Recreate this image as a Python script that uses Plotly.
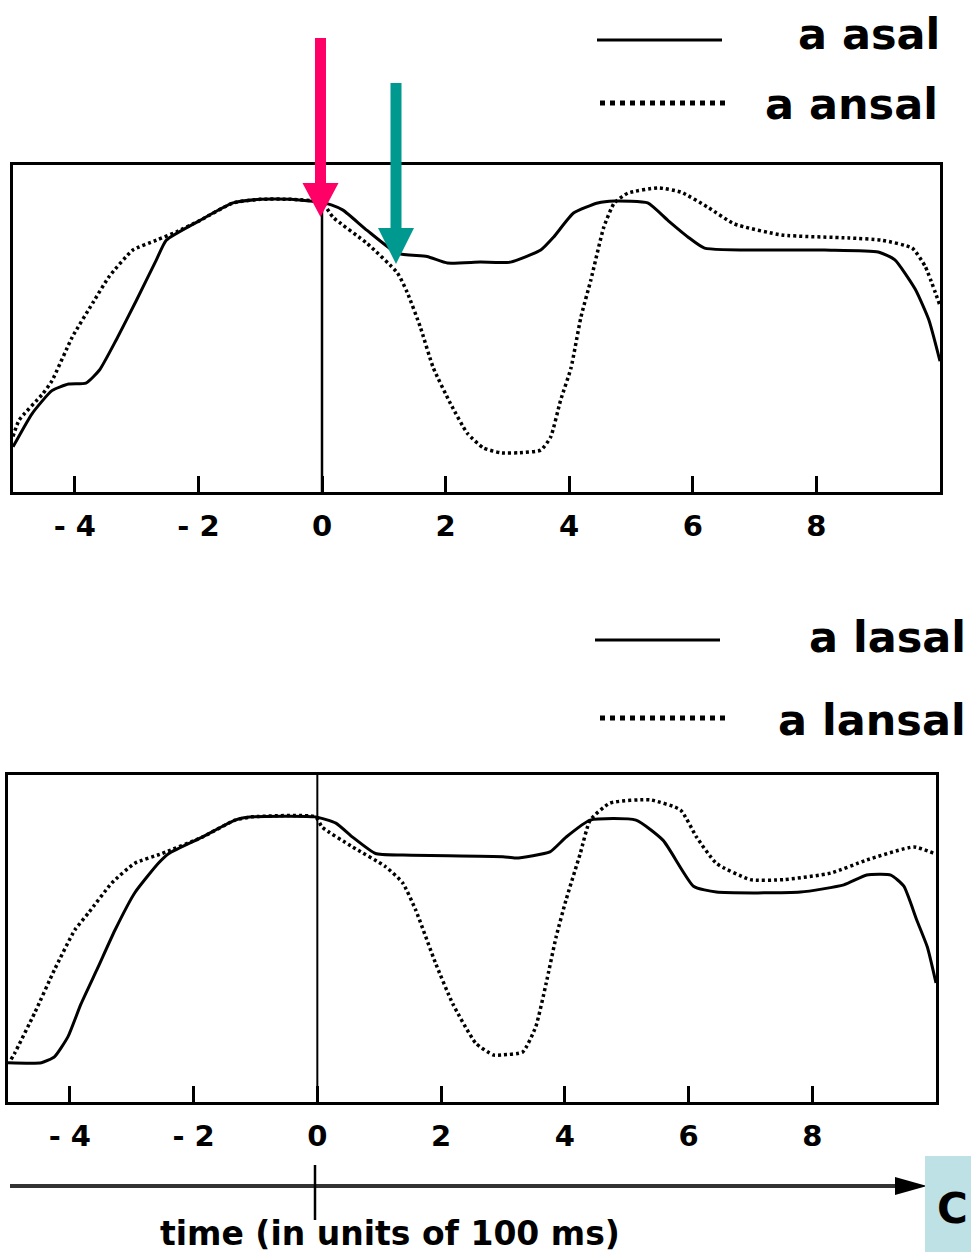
import plotly.graph_objects as go

W, H = 971, 1252

# ---------------- data ----------------
tick_vals = [-4, -2, 0, 2, 4, 6, 8]
tick_text = ["- 4", "- 2", "0", "2", "4", "6", "8"]

asal_x = [-5.0, -4.69, -4.37, -4.1, -3.82, -3.6, -3.33, -3.0, -2.68, -2.52, -1.98, -1.44, -1.0, -0.5, 0.0, 0.15,
          0.34, 0.73, 1.22, 1.7, 2.03, 2.56, 3.05, 3.54, 3.75, 4.07, 4.46, 4.73, 5.27, 5.6, 5.92, 6.19,
          8.13, 9.0, 9.27, 9.6, 9.82, 10.0]
asal_y = [0.138, 0.24, 0.31, 0.33, 0.333, 0.373, 0.465, 0.587, 0.71, 0.77, 0.83, 0.884, 0.895, 0.895, 0.885, 0.878,
          0.862, 0.80, 0.73, 0.72, 0.70, 0.703, 0.703, 0.74, 0.78, 0.853, 0.884, 0.89, 0.884, 0.83, 0.78, 0.746,
          0.74, 0.734, 0.71, 0.62, 0.526, 0.40]

ansal_x = [-5.0, -4.9, -4.52, -4.37, -4.04, -3.71, -3.44, -3.06, -2.68, -2.36, -1.98, -1.44, -1.0, -0.5, 0.0,
           0.18, 0.73, 1.22, 1.38, 1.59, 1.8, 2.08, 2.35, 2.61, 2.89, 3.2, 3.54, 3.7, 3.86, 4.03, 4.19, 4.35,
           4.56, 4.73, 4.95, 5.44, 5.81, 6.25, 6.67, 7.44, 8.52, 9.06, 9.55, 9.76, 10.0]
ansal_y = [0.17, 0.22, 0.30, 0.34, 0.474, 0.578, 0.66, 0.74, 0.77, 0.795, 0.83, 0.884, 0.895, 0.895, 0.885,
           0.84, 0.76, 0.67, 0.61, 0.505, 0.38, 0.27, 0.18, 0.135, 0.12, 0.12, 0.128, 0.168, 0.28, 0.38, 0.535, 0.648,
           0.81, 0.884, 0.914, 0.93, 0.917, 0.87, 0.82, 0.786, 0.777, 0.77, 0.746, 0.69, 0.57]

lasal_x = [-5.0, -4.46, -4.25, -4.03, -3.82, -3.55, -3.27, -2.95, -2.57, -2.4, -1.86, -1.33, -1.05, -0.03, 0.3,
           0.57, 0.94, 1.38, 3.0, 3.21, 3.76, 4.02, 4.41, 5.15, 5.59, 6.08, 6.45, 7.81, 8.51, 8.88, 9.27, 9.48,
           9.69, 9.86, 10.0]
lasal_y = [0.12, 0.12, 0.138, 0.2, 0.30, 0.41, 0.526, 0.64, 0.73, 0.76, 0.81, 0.862, 0.872, 0.872, 0.853,
           0.81, 0.76, 0.755, 0.75, 0.746, 0.765, 0.81, 0.862, 0.862, 0.80, 0.66, 0.642, 0.642, 0.664, 0.694, 0.694, 0.66,
           0.556, 0.474, 0.364]

lansal_x = [-4.95, -4.89, -4.57, -4.25, -3.92, -3.7, -3.32, -2.95, -2.51, -1.86, -1.33, -1.05, -0.03, 0.08, 0.57,
            1.1, 1.38, 1.59, 1.91, 2.19, 2.56, 2.84, 3.0, 3.32, 3.53, 3.7, 3.86, 4.02, 4.25, 4.41, 4.73, 5.38,
            5.87, 6.13, 6.45, 7.0, 7.54, 8.3, 8.88, 9.64, 9.97]
lansal_y = [0.13, 0.15, 0.272, 0.404, 0.526, 0.578, 0.67, 0.73, 0.76, 0.81, 0.862, 0.872, 0.872, 0.84, 0.78,
            0.72, 0.67, 0.587, 0.425, 0.30, 0.18, 0.144, 0.144, 0.153, 0.23, 0.364, 0.505, 0.618, 0.76, 0.862, 0.914, 0.924,
            0.893, 0.81, 0.73, 0.68, 0.68, 0.70, 0.74, 0.78, 0.76]

legend_top = ["a asal", "a ansal"]
legend_bottom = ["a lasal", "a lansal"]
time_label = "time (in units of 100 ms)"
corner_label = "C"

# ---------------- helpers ----------------
FONT = "DejaVu Sans"


def px(x):
    return x / W


def py(y):
    return 1 - y / H


fig = go.Figure()

solid = dict(color="black", width=3)
dotted = dict(color="black", width=3.5, dash="3px,3px")

fig.add_trace(go.Scatter(x=asal_x, y=asal_y, mode="lines", line=dict(**solid, shape="spline", smoothing=0.5),
                         xaxis="x", yaxis="y", showlegend=False))
fig.add_trace(go.Scatter(x=ansal_x, y=ansal_y, mode="lines", line=dict(**dotted, shape="spline", smoothing=0.5),
                         xaxis="x", yaxis="y", showlegend=False))
fig.add_trace(go.Scatter(x=lasal_x, y=lasal_y, mode="lines", line=dict(**solid, shape="spline", smoothing=0.5),
                         xaxis="x2", yaxis="y2", showlegend=False))
fig.add_trace(go.Scatter(x=lansal_x, y=lansal_y, mode="lines", line=dict(**dotted, shape="spline", smoothing=0.5),
                         xaxis="x2", yaxis="y2", showlegend=False))

xax = dict(range=[-5, 10], tickvals=tick_vals, ticktext=tick_text, ticks="inside", ticklen=16, tickwidth=2.5,
           tickcolor="black", showline=True, linecolor="black", linewidth=2.5, mirror=True, showgrid=False,
           zeroline=False, tickfont=dict(family=FONT, size=29, color="black", weight="bold"),
           ticklabelstandoff=6)
yax = dict(range=[0, 1], showticklabels=False, ticks="", showline=True, linecolor="black", linewidth=2.5,
           mirror=True, showgrid=False, zeroline=False)

fig.update_layout(
    width=W, height=H, margin=dict(l=0, r=0, t=0, b=0),
    paper_bgcolor="white", plot_bgcolor="white",
    xaxis=dict(**xax, domain=[px(13), px(940)], anchor="y"),
    yaxis=dict(**yax, domain=[py(492), py(165)], anchor="x"),
    xaxis2=dict(**xax, domain=[px(8), px(936)], anchor="y2"),
    yaxis2=dict(**yax, domain=[py(1102), py(775)], anchor="x2"),
)

shapes = []
# vertical lines at time 0
shapes.append(dict(type="line", xref="x", yref="y", x0=0, x1=0, y0=0, y1=0.88, line=dict(color="black", width=2.5)))
shapes.append(dict(type="line", xref="x2", yref="y2", x0=0, x1=0, y0=0, y1=1, line=dict(color="black", width=2)))

# legend samples
def hline(x0, x1, y, width, dash="solid"):
    return dict(type="line", xref="paper", yref="paper", x0=px(x0), x1=px(x1), y0=py(y), y1=py(y),
                line=dict(color="black", width=width, dash=dash))

shapes.append(hline(597, 722, 40, 3))
shapes.append(hline(600, 727, 103, 5, "dot"))
shapes.append(hline(595, 720, 640, 3))
shapes.append(hline(600, 727, 718, 5, "dot"))

# pointer arrows
def arrow(xc, y_top, y_tip, shaft_w, head_w, head_h, color):
    s = [dict(type="rect", xref="paper", yref="paper", x0=px(xc - shaft_w / 2), x1=px(xc + shaft_w / 2),
              y0=py(y_top), y1=py(y_tip - head_h + 2), fillcolor=color, line=dict(width=0))]
    path = "M {} {} L {} {} L {} {} Z".format(px(xc - head_w / 2), py(y_tip - head_h), px(xc + head_w / 2),
                                               py(y_tip - head_h), px(xc), py(y_tip))
    s.append(dict(type="path", xref="paper", yref="paper", path=path, fillcolor=color, line=dict(width=0)))
    return s

shapes += arrow(320.5, 38, 217, 11, 36, 34, "#FF0066")
shapes += arrow(396, 83, 264, 11, 36, 36, "#00998F")

# time axis arrow
shapes.append(dict(type="line", xref="paper", yref="paper", x0=px(10), x1=px(900), y0=py(1186), y1=py(1186),
                   line=dict(color="#333333", width=4)))
shapes.append(dict(type="path", xref="paper", yref="paper",
                   path="M {} {} L {} {} L {} {} Z".format(px(895), py(1177), px(895), py(1195), px(927), py(1186)),
                   fillcolor="black", line=dict(width=0)))
shapes.append(dict(type="line", xref="paper", yref="paper", x0=px(315), x1=px(315), y0=py(1165), y1=py(1220),
                   line=dict(color="black", width=2.5)))

# corner box
shapes.append(dict(type="rect", xref="paper", yref="paper", x0=px(925), x1=px(975), y0=py(1156), y1=py(1256),
                   fillcolor="#BDE1E5", line=dict(width=0)))

fig.update_layout(shapes=shapes)

ann = []
def text(t, x, y, size, xanchor):
    return dict(text=t, x=px(x), y=py(y), xref="paper", yref="paper", xanchor=xanchor, yanchor="middle",
                showarrow=False, font=dict(family=FONT, size=size, color="black", weight="bold"))

ann.append(text(legend_top[0], 942, 34, 43, "right"))
ann.append(text(legend_top[1], 940, 104, 43, "right"))
ann.append(text(legend_bottom[0], 968, 637, 43, "right"))
ann.append(text(legend_bottom[1], 968, 720, 43, "right"))
ann.append(text(time_label, 390, 1233, 33, "center"))
ann.append(text(corner_label, 970, 1208, 42, "right"))
fig.update_layout(annotations=ann)

fig.write_html("out.html", config={"displayModeBar": False},
               post_script="document.body.style.margin='0px';document.body.style.overflow='hidden';")
